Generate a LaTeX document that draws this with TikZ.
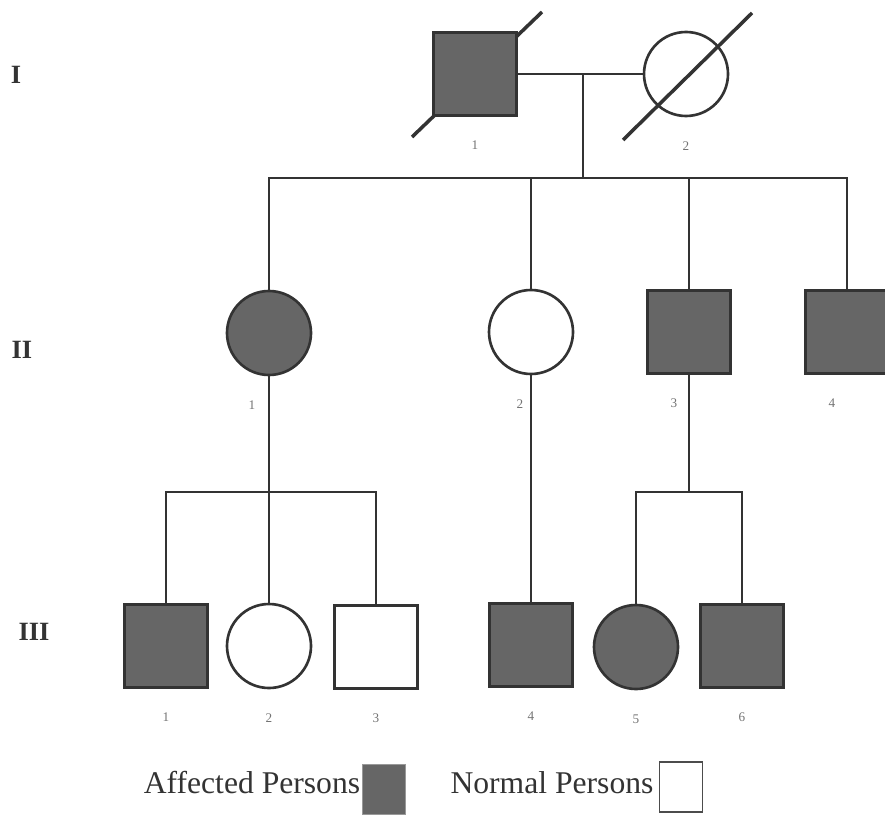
\documentclass[tikz,border=0pt]{standalone}
\usepackage{fontspec}
\setmainfont{Liberation Serif}
\usepackage{xcolor}
\usepackage{tikz}

\begin{document}
\begin{tikzpicture}[x=0.2mm, y=-0.2mm,
    male/.style={draw=black!80, line width=1.5pt, rectangle, minimum size=16.6mm, inner sep=0pt},
    female/.style={draw=black!80, line width=1.5pt, circle, minimum size=16.8mm, inner sep=0pt},
    affected/.style={fill=black!60},
    link/.style={draw=black!80, line width=1.6pt},
    slash/.style={draw=black!80, line width=2pt},
    gen/.style={font=\fontsize{15}{17}\selectfont\bfseries, text=black!80},
    every label/.style={font=\fontsize{7.5}{8}\selectfont, text=black!55},
    label distance=3.6mm]

    \useasboundingbox (0,0) rectangle (885,814);

    % Generation labels
    \node (g1) [gen] at (16,75) {I};
    \node (g2) [gen] at (22,350) {II};
    \node (g3) [gen] at (34,632) {III};

    % Deceased marks (drawn under the symbols)
    \coordinate (i1c) at (475,74);
    \coordinate (i2c) at (686,74);
    \draw[slash] (i1c) ++(-63,63) -- ++(130,-125);

    % Define nodes
    \node (i1) [male, affected, label={below:1}] at (i1c) {};
    \node (i2) [female, fill=white, label={below:2}] at (i2c) {};
    \draw[slash] (i2c) ++(-63,66) -- ++(129,-127);

    \node (ii1) [female, affected, label={[xshift=-3.4mm]below:1}] at (269,333) {};
    \node (ii2) [female, fill=white, label={[xshift=-2.2mm]below:2}] at (531,332) {};
    \node (ii3) [male, affected, label={[xshift=-3mm]below:3}] at (689,332) {};
    \node (ii4) [male, affected, label={[xshift=-3mm]below:4}] at (847,332) {};

    \node (iii1) [male, affected, label={below:1}] at (166,646) {};
    \node (iii2) [female, fill=white, label={below:2}] at (269,646) {};
    \node (iii3) [male, fill=white, label={below:3}] at (376,647) {};
    \node (iii4) [male, affected, label={below:4}] at (531,645) {};
    \node (iii5) [female, affected, label={below:5}] at (636,647) {};
    \node (iii6) [male, affected, label={below:6}] at (742,646) {};

    % Junctions
    \coordinate (m1) at (583,75);
    \coordinate (s1) at (583,178);
    \coordinate (s2) at (269,492);
    \coordinate (s3) at (689,492);

    % Define connections
    \draw[link] (i1.east) -- (i2.west);
    \draw[link] (m1) -- (s1);
    \draw[link] (ii1.north) |- (s1) -| (ii4.north);
    \draw[link] (ii2.north) -- (ii2.north |- s1);
    \draw[link] (ii3.north) -- (ii3.north |- s1);

    \draw[link] (ii1.south) -- (s2);
    \draw[link] (iii1.north) |- (s2) -| (iii3.north);
    \draw[link] (iii2.north) -- (s2);

    \draw[link] (ii2.south) -- (iii4.north);

    \draw[link] (ii3.south) -- (s3);
    \draw[link] (iii5.north) |- (s3) -| (iii6.north);

    % Legend
    \node (afftxt) [font=\fontsize{18}{20}\selectfont, text=black!80] at (252,783) {Affected Persons};
    \node (affbox) [draw=black!40, line width=0.4pt, fill=black!60, minimum width=8.6mm, minimum height=10mm, inner sep=0pt] at (384,789) {};
    \node (normtxt) [font=\fontsize{18}{20}\selectfont, text=black!80] at (552,783) {Normal Persons};
    \node (normbox) [draw=black!70, line width=0.6pt, fill=white, minimum width=8.6mm, minimum height=10mm, inner sep=0pt] at (681,787) {};

\end{tikzpicture}
\end{document}
